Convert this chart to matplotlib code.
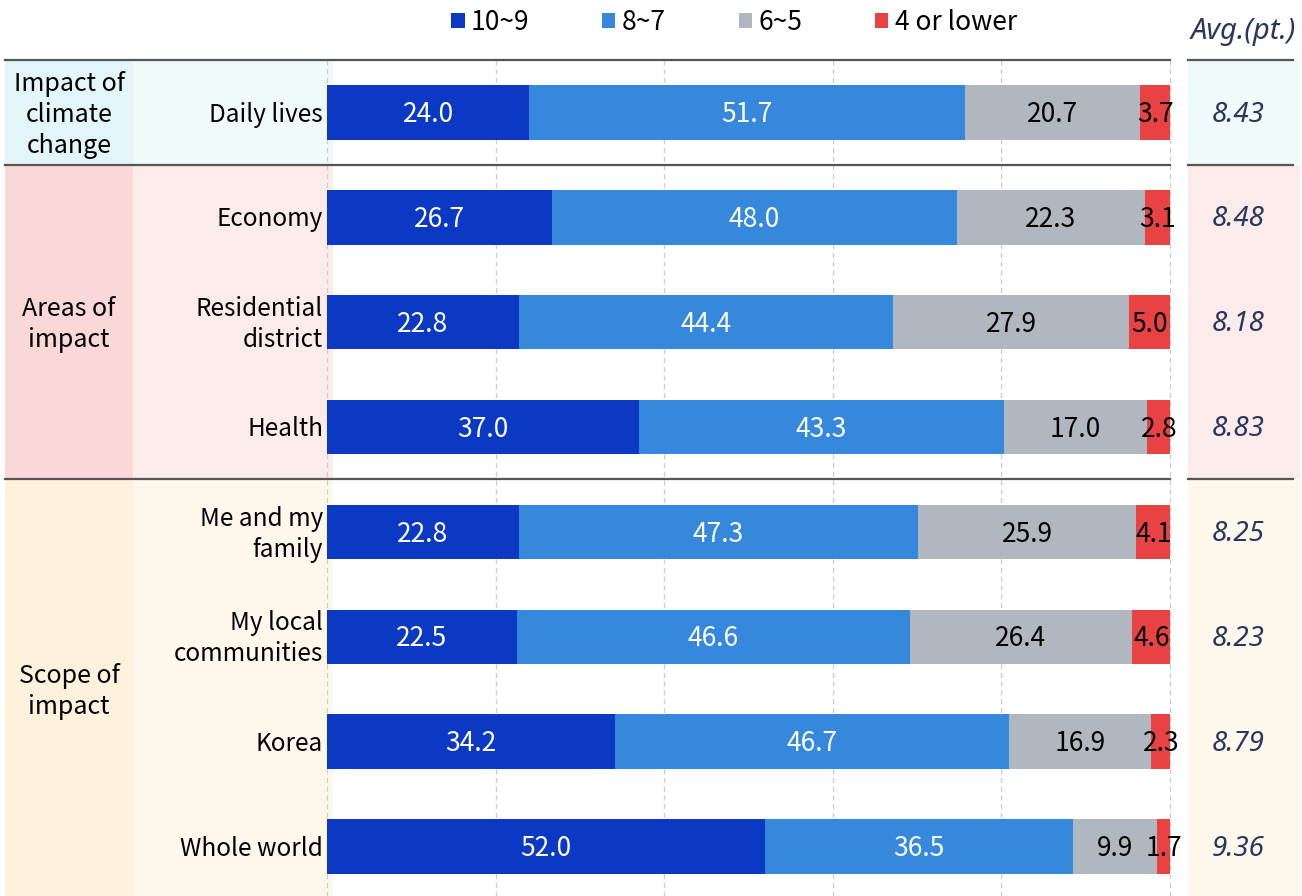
import matplotlib
matplotlib.use("Agg")
import matplotlib.pyplot as plt
from matplotlib.patches import Rectangle, Patch
import numpy as np

plt.rcParams['font.family'] = ['Noto Sans CJK KR', 'DejaVu Sans']

# =============================================================================
# Data
# =============================================================================

rows = ["Daily lives", "Economy", "Residential\ndistrict", "Health",
        "Me and my\nfamily", "My local\ncommunities", "Korea", "Whole world"]

s_10_9 = [24.0, 26.7, 22.8, 37.0, 22.8, 22.5, 34.2, 52.0]
s_8_7 = [51.7, 48.0, 44.4, 43.3, 47.3, 46.6, 46.7, 36.5]
s_6_5 = [20.7, 22.3, 27.9, 17.0, 25.9, 26.4, 16.9, 9.9]
s_4_low = [3.7, 3.1, 5.0, 2.8, 4.1, 4.6, 2.3, 1.7]
avg = [8.43, 8.48, 8.18, 8.83, 8.25, 8.23, 8.79, 9.36]

series_names = ["10~9", "8~7", "6~5", "4 or lower"]

groups = ["Impact of\nclimate\nchange", "Areas of\nimpact", "Scope of\nimpact"]
group_rows = [(0, 0), (1, 3), (4, 7)]

# =============================================================================
# Style
# =============================================================================

COLORS = ["#0b39c4", "#3588db", "#b1b7bf", "#e84242"]
TEXT_COLORS = ["white", "white", "black", "black"]
GROUP_DARK = ["#e2f6f9", "#fad8d8", "#fef2dc"]
GROUP_LIGHT = ["#f0fafb", "#fcebeb", "#fef8ec"]
AVG_COLOR = "#27375e"
LINE_COLOR = "#555555"
ITALIC = ["Noto Sans", "DejaVu Sans"]

W, H = 1302, 896
X0, X1 = 327, 1170          # pixel extent of 0..100 %
TOP, BOTTOM = 60, 899       # pixel extent of the 8 rows


def px(x):
    """figure pixel -> data x (percent)"""
    return (x - X0) / (X1 - X0) * 100


fig = plt.figure(figsize=(W / 100, H / 100), dpi=100)
ax = fig.add_axes([X0 / W, (H - BOTTOM) / H, (X1 - X0) / W, (BOTTOM - TOP) / H])
ax.set_xlim(0, 100)
ax.set_ylim(7.5, -0.5)
ax.axis("off")

n = len(rows)
y = np.arange(n)

# background panels (labels + avg column)
for g, (a, b) in enumerate(group_rows):
    y0, h = a - 0.5, b - a + 1
    ax.add_patch(Rectangle((px(5), y0), px(133) - px(5), h, facecolor=GROUP_DARK[g],
                           edgecolor="none", clip_on=False, zorder=0))
    ax.add_patch(Rectangle((px(133), y0), px(333) - px(133), h, facecolor=GROUP_LIGHT[g],
                           edgecolor="none", clip_on=False, zorder=0))
    ax.add_patch(Rectangle((px(1188), y0), px(1300) - px(1188), h, facecolor=GROUP_LIGHT[g],
                           edgecolor="none", clip_on=False, zorder=0))
    ax.text(px(69), (a + b) / 2 + 0.02, groups[g], ha="center", va="center",
            fontsize=18, linespacing=1.25, clip_on=False)

# grid
for gx in [0, 20, 40, 60, 80, 100]:
    ax.plot([gx, gx], [-0.5, 7.5], ls=(0, (4, 3)), color="#cccccc", lw=0.9, zorder=1,
            clip_on=False)

# separator lines
for ly in [-0.5, 0.5, 3.5]:
    ax.plot([px(5), 100], [ly, ly], color=LINE_COLOR, lw=1.6, clip_on=False, zorder=3)
    ax.plot([px(1188), px(1293)], [ly, ly], color=LINE_COLOR, lw=1.6, clip_on=False, zorder=3)

# bars
data = [s_10_9, s_8_7, s_6_5, s_4_low]
left = np.zeros(n)
for k, vals in enumerate(data):
    vals = np.array(vals)
    ax.barh(y, vals, left=left, height=0.52, color=COLORS[k], zorder=2)
    for i in range(n):
        ax.text(left[i] + vals[i] / 2, y[i] + 0.02, f"{vals[i]:.1f}", ha="center",
                va="center", color=TEXT_COLORS[k], fontsize=19, zorder=4)
    left += vals

# row labels and averages
for i in range(n):
    ax.text(px(323), y[i] + 0.02, rows[i], ha="right", va="center", fontsize=17.5,
            linespacing=1.25, clip_on=False)
    ax.text(px(1238), y[i] + 0.02, f"{avg[i]:.2f}", ha="center", va="center", fontsize=20,
            style="italic", color=AVG_COLOR, family=ITALIC, clip_on=False)

fig.text(1243 / W, 1 - 32 / H, "Avg.(pt.)", ha="center", va="center", fontsize=21,
         style="italic", color=AVG_COLOR, family=ITALIC)

handles = [Patch(facecolor=c, edgecolor="none") for c in COLORS]
fig.legend(handles, series_names, loc="center", bbox_to_anchor=(734 / W, 1 - 22 / H),
           ncol=4, frameon=False, fontsize=19, handlelength=0.5, handleheight=0.5,
           handletextpad=0.25, columnspacing=2.75)

fig.savefig("out.png", dpi=100)
